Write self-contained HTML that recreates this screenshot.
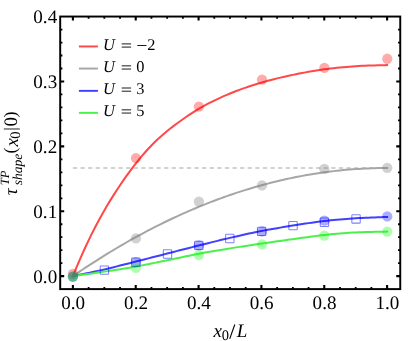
<!DOCTYPE html>
<html><head><meta charset="utf-8"><title>plot</title>
<style>html,body{margin:0;padding:0;background:#fff;}body{width:415px;height:341px;overflow:hidden;}svg{display:block;will-change:transform;}text{font-family:"Liberation Serif",serif;fill:#000;text-rendering:geometricPrecision;}</style>
</head><body>
<svg width="415" height="341" viewBox="0 0 415 341">
<rect x="0" y="0" width="415" height="341" fill="#fff"/>
<line x1="72.90" y1="168.00" x2="387.10" y2="168.00" stroke="#c2c2c2" stroke-width="1.4" stroke-dasharray="4.2 3.4"/>
<polyline points="72.90,276.15 76.04,268.46 79.18,261.05 82.33,253.90 85.47,247.00 88.61,240.35 91.75,233.93 94.89,227.73 98.04,221.75 101.18,215.99 104.32,210.44 107.46,205.08 110.60,199.89 113.75,194.87 116.89,189.99 120.03,185.25 123.17,180.63 126.31,176.15 129.46,171.81 132.60,167.62 135.74,163.58 138.88,159.68 142.02,155.90 145.17,152.26 148.31,148.77 151.45,145.45 154.59,142.30 157.73,139.32 160.88,136.47 164.02,133.74 167.16,131.09 170.30,128.54 173.44,126.09 176.59,123.74 179.73,121.45 182.87,119.23 186.01,117.05 189.15,114.93 192.30,112.86 195.44,110.87 198.58,108.97 201.72,107.15 204.86,105.40 208.01,103.72 211.15,102.10 214.29,100.53 217.43,99.03 220.57,97.57 223.72,96.17 226.86,94.81 230.00,93.50 233.14,92.23 236.28,91.01 239.43,89.82 242.57,88.68 245.71,87.57 248.85,86.51 251.99,85.47 255.14,84.48 258.28,83.52 261.42,82.59 264.56,81.69 267.70,80.82 270.85,79.99 273.99,79.18 277.13,78.40 280.27,77.64 283.41,76.91 286.56,76.20 289.70,75.52 292.84,74.86 295.98,74.22 299.12,73.59 302.27,72.98 305.41,72.38 308.55,71.81 311.69,71.26 314.83,70.73 317.98,70.23 321.12,69.76 324.26,69.32 327.40,68.91 330.54,68.52 333.69,68.15 336.83,67.80 339.97,67.48 343.11,67.17 346.25,66.89 349.40,66.63 352.54,66.40 355.68,66.18 358.82,65.99 361.96,65.83 365.11,65.69 368.25,65.57 371.39,65.47 374.53,65.38 377.67,65.31 380.82,65.24 383.96,65.17 387.10,65.11" fill="none" stroke="#ff4848" stroke-width="2.0" stroke-linejoin="round" stroke-linecap="square"/>
<polyline points="72.90,276.15 76.04,274.00 79.18,271.87 82.33,269.76 85.47,267.67 88.61,265.61 91.75,263.56 94.89,261.54 98.04,259.54 101.18,257.56 104.32,255.60 107.46,253.67 110.60,251.75 113.75,249.86 116.89,247.99 120.03,246.14 123.17,244.31 126.31,242.50 129.46,240.72 132.60,238.96 135.74,237.22 138.88,235.50 142.02,233.80 145.17,232.12 148.31,230.47 151.45,228.83 154.59,227.22 157.73,225.63 160.88,224.06 164.02,222.52 167.16,220.99 170.30,219.49 173.44,218.01 176.59,216.55 179.73,215.11 182.87,213.69 186.01,212.30 189.15,210.92 192.30,209.57 195.44,208.24 198.58,206.93 201.72,205.65 204.86,204.38 208.01,203.14 211.15,201.92 214.29,200.72 217.43,199.54 220.57,198.38 223.72,197.24 226.86,196.13 230.00,195.04 233.14,193.97 236.28,192.92 239.43,191.89 242.57,190.88 245.71,189.90 248.85,188.94 251.99,188.00 255.14,187.08 258.28,186.18 261.42,185.30 264.56,184.45 267.70,183.62 270.85,182.81 273.99,182.02 277.13,181.25 280.27,180.50 283.41,179.78 286.56,179.07 289.70,178.39 292.84,177.73 295.98,177.10 299.12,176.48 302.27,175.88 305.41,175.31 308.55,174.76 311.69,174.23 314.83,173.72 317.98,173.23 321.12,172.77 324.26,172.33 327.40,171.90 330.54,171.50 333.69,171.13 336.83,170.77 339.97,170.43 343.11,170.12 346.25,169.83 349.40,169.56 352.54,169.31 355.68,169.08 358.82,168.88 361.96,168.69 365.11,168.53 368.25,168.39 371.39,168.27 374.53,168.17 377.67,168.10 380.82,168.04 383.96,168.01 387.10,168.00" fill="none" stroke="#a6a6a6" stroke-width="2.0" stroke-linejoin="round" stroke-linecap="square"/>
<polyline points="72.90,276.15 76.04,275.49 79.18,274.83 82.33,274.18 85.47,273.54 88.61,272.89 91.75,272.23 94.89,271.56 98.04,270.88 101.18,270.18 104.32,269.47 107.46,268.72 110.60,267.96 113.75,267.18 116.89,266.39 120.03,265.59 123.17,264.78 126.31,263.97 129.46,263.16 132.60,262.35 135.74,261.55 138.88,260.75 142.02,259.96 145.17,259.16 148.31,258.36 151.45,257.57 154.59,256.77 157.73,255.97 160.88,255.17 164.02,254.37 167.16,253.57 170.30,252.76 173.44,251.96 176.59,251.15 179.73,250.34 182.87,249.52 186.01,248.72 189.15,247.91 192.30,247.11 195.44,246.31 198.58,245.52 201.72,244.74 204.86,243.95 208.01,243.17 211.15,242.39 214.29,241.62 217.43,240.85 220.57,240.09 223.72,239.34 226.86,238.60 230.00,237.86 233.14,237.14 236.28,236.42 239.43,235.70 242.57,234.99 245.71,234.28 248.85,233.59 251.99,232.92 255.14,232.25 258.28,231.61 261.42,230.99 264.56,230.38 267.70,229.80 270.85,229.24 273.99,228.69 277.13,228.15 280.27,227.63 283.41,227.11 286.56,226.60 289.70,226.10 292.84,225.60 295.98,225.10 299.12,224.60 302.27,224.10 305.41,223.61 308.55,223.13 311.69,222.66 314.83,222.21 317.98,221.78 321.12,221.37 324.26,220.99 327.40,220.64 330.54,220.31 333.69,219.99 336.83,219.70 339.97,219.42 343.11,219.17 346.25,218.92 349.40,218.69 352.54,218.47 355.68,218.27 358.82,218.08 361.96,217.92 365.11,217.77 368.25,217.65 371.39,217.53 374.53,217.42 377.67,217.31 380.82,217.21 383.96,217.09 387.10,216.97" fill="none" stroke="#4040ff" stroke-width="2.0" stroke-linejoin="round" stroke-linecap="square"/>
<polyline points="72.90,276.15 76.04,275.70 79.18,275.25 82.33,274.80 85.47,274.36 88.61,273.91 91.75,273.46 94.89,273.01 98.04,272.55 101.18,272.08 104.32,271.61 107.46,271.13 110.60,270.65 113.75,270.16 116.89,269.68 120.03,269.18 123.17,268.68 126.31,268.17 129.46,267.64 132.60,267.10 135.74,266.55 138.88,265.97 142.02,265.38 145.17,264.77 148.31,264.15 151.45,263.52 154.59,262.89 157.73,262.25 160.88,261.60 164.02,260.96 167.16,260.32 170.30,259.67 173.44,259.01 176.59,258.34 179.73,257.66 182.87,256.99 186.01,256.32 189.15,255.65 192.30,255.00 195.44,254.37 198.58,253.76 201.72,253.17 204.86,252.60 208.01,252.04 211.15,251.50 214.29,250.96 217.43,250.43 220.57,249.91 223.72,249.40 226.86,248.89 230.00,248.38 233.14,247.87 236.28,247.37 239.43,246.88 242.57,246.40 245.71,245.92 248.85,245.44 251.99,244.97 255.14,244.50 258.28,244.04 261.42,243.58 264.56,243.12 267.70,242.66 270.85,242.21 273.99,241.77 277.13,241.33 280.27,240.89 283.41,240.46 286.56,240.02 289.70,239.59 292.84,239.16 295.98,238.73 299.12,238.29 302.27,237.85 305.41,237.41 308.55,236.97 311.69,236.55 314.83,236.13 317.98,235.74 321.12,235.36 324.26,235.01 327.40,234.68 330.54,234.36 333.69,234.06 336.83,233.78 339.97,233.51 343.11,233.25 346.25,233.01 349.40,232.80 352.54,232.60 355.68,232.41 358.82,232.26 361.96,232.13 365.11,232.03 368.25,231.95 371.39,231.88 374.53,231.82 377.67,231.77 380.82,231.71 383.96,231.65 387.10,231.57" fill="none" stroke="#4cf04c" stroke-width="2.0" stroke-linejoin="round" stroke-linecap="square"/>
<circle cx="72.90" cy="274.01" r="5.15" fill="#ff0000" fill-opacity="0.33"/>
<circle cx="135.94" cy="158.05" r="5.15" fill="#ff0000" fill-opacity="0.33"/>
<circle cx="198.88" cy="106.59" r="5.15" fill="#ff0000" fill-opacity="0.33"/>
<circle cx="262.02" cy="79.53" r="5.15" fill="#ff0000" fill-opacity="0.33"/>
<circle cx="324.36" cy="67.85" r="5.15" fill="#ff0000" fill-opacity="0.33"/>
<circle cx="387.25" cy="58.77" r="5.15" fill="#ff0000" fill-opacity="0.33"/>
<circle cx="72.90" cy="276.60" r="5.15" fill="#808080" fill-opacity="0.36"/>
<circle cx="135.94" cy="238.38" r="5.15" fill="#808080" fill-opacity="0.36"/>
<circle cx="198.88" cy="201.53" r="5.15" fill="#808080" fill-opacity="0.36"/>
<circle cx="262.02" cy="185.30" r="5.15" fill="#808080" fill-opacity="0.36"/>
<circle cx="324.36" cy="168.95" r="5.15" fill="#808080" fill-opacity="0.36"/>
<circle cx="387.25" cy="167.78" r="5.15" fill="#808080" fill-opacity="0.36"/>
<circle cx="72.90" cy="276.60" r="5.15" fill="#0000ff" fill-opacity="0.32"/>
<circle cx="135.94" cy="262.20" r="5.15" fill="#0000ff" fill-opacity="0.32"/>
<circle cx="198.88" cy="245.39" r="5.15" fill="#0000ff" fill-opacity="0.32"/>
<circle cx="262.02" cy="231.38" r="5.15" fill="#0000ff" fill-opacity="0.32"/>
<circle cx="324.36" cy="220.67" r="5.15" fill="#0000ff" fill-opacity="0.32"/>
<circle cx="387.25" cy="216.45" r="5.15" fill="#0000ff" fill-opacity="0.32"/>
<rect x="100.22" y="265.92" width="8.4" height="8.4" rx="0.7" fill="none" stroke="#0000ff" stroke-opacity="0.5" stroke-width="1.05"/>
<rect x="131.64" y="258.00" width="8.4" height="8.4" rx="0.7" fill="none" stroke="#0000ff" stroke-opacity="0.5" stroke-width="1.05"/>
<rect x="163.31" y="249.82" width="8.4" height="8.4" rx="0.7" fill="none" stroke="#0000ff" stroke-opacity="0.5" stroke-width="1.05"/>
<rect x="194.58" y="241.19" width="8.4" height="8.4" rx="0.7" fill="none" stroke="#0000ff" stroke-opacity="0.5" stroke-width="1.05"/>
<rect x="225.60" y="234.31" width="8.4" height="8.4" rx="0.7" fill="none" stroke="#0000ff" stroke-opacity="0.5" stroke-width="1.05"/>
<rect x="257.42" y="227.18" width="8.4" height="8.4" rx="0.7" fill="none" stroke="#0000ff" stroke-opacity="0.5" stroke-width="1.05"/>
<rect x="288.84" y="221.40" width="8.4" height="8.4" rx="0.7" fill="none" stroke="#0000ff" stroke-opacity="0.5" stroke-width="1.05"/>
<rect x="320.26" y="218.09" width="8.4" height="8.4" rx="0.7" fill="none" stroke="#0000ff" stroke-opacity="0.5" stroke-width="1.05"/>
<rect x="351.83" y="214.72" width="8.4" height="8.4" rx="0.7" fill="none" stroke="#0000ff" stroke-opacity="0.5" stroke-width="1.05"/>
<circle cx="72.90" cy="276.60" r="5.15" fill="#00ff00" fill-opacity="0.32"/>
<circle cx="135.94" cy="267.91" r="5.15" fill="#00ff00" fill-opacity="0.32"/>
<circle cx="198.88" cy="255.00" r="5.15" fill="#00ff00" fill-opacity="0.32"/>
<circle cx="262.02" cy="244.42" r="5.15" fill="#00ff00" fill-opacity="0.32"/>
<circle cx="324.36" cy="235.59" r="5.15" fill="#00ff00" fill-opacity="0.32"/>
<circle cx="387.25" cy="231.57" r="5.15" fill="#00ff00" fill-opacity="0.32"/>
<rect x="60.2" y="16.55" width="340.05" height="272.55" fill="none" stroke="#000" stroke-width="1.95"/>
<path d="M72.90 289.1 v-4.0 M72.90 16.55 v4.0 M135.74 289.1 v-4.0 M135.74 16.55 v4.0 M198.58 289.1 v-4.0 M198.58 16.55 v4.0 M261.42 289.1 v-4.0 M261.42 16.55 v4.0 M324.26 289.1 v-4.0 M324.26 16.55 v4.0 M387.10 289.1 v-4.0 M387.10 16.55 v4.0 M60.2 276.15 h4.0 M400.25 276.15 h-4.0 M60.2 211.26 h4.0 M400.25 211.26 h-4.0 M60.2 146.37 h4.0 M400.25 146.37 h-4.0 M60.2 81.48 h4.0 M400.25 81.48 h-4.0" stroke="#000" stroke-width="2.1" fill="none"/>
<path d="M88.61 289.1 v-2.2 M88.61 16.55 v2.2 M104.32 289.1 v-2.2 M104.32 16.55 v2.2 M120.03 289.1 v-2.2 M120.03 16.55 v2.2 M151.45 289.1 v-2.2 M151.45 16.55 v2.2 M167.16 289.1 v-2.2 M167.16 16.55 v2.2 M182.87 289.1 v-2.2 M182.87 16.55 v2.2 M214.29 289.1 v-2.2 M214.29 16.55 v2.2 M230.00 289.1 v-2.2 M230.00 16.55 v2.2 M245.71 289.1 v-2.2 M245.71 16.55 v2.2 M277.13 289.1 v-2.2 M277.13 16.55 v2.2 M292.84 289.1 v-2.2 M292.84 16.55 v2.2 M308.55 289.1 v-2.2 M308.55 16.55 v2.2 M339.97 289.1 v-2.2 M339.97 16.55 v2.2 M355.68 289.1 v-2.2 M355.68 16.55 v2.2 M371.39 289.1 v-2.2 M371.39 16.55 v2.2 M60.2 263.17 h2.2 M400.25 263.17 h-2.2 M60.2 250.19 h2.2 M400.25 250.19 h-2.2 M60.2 237.22 h2.2 M400.25 237.22 h-2.2 M60.2 224.24 h2.2 M400.25 224.24 h-2.2 M60.2 198.28 h2.2 M400.25 198.28 h-2.2 M60.2 185.30 h2.2 M400.25 185.30 h-2.2 M60.2 172.33 h2.2 M400.25 172.33 h-2.2 M60.2 159.35 h2.2 M400.25 159.35 h-2.2 M60.2 133.39 h2.2 M400.25 133.39 h-2.2 M60.2 120.41 h2.2 M400.25 120.41 h-2.2 M60.2 107.44 h2.2 M400.25 107.44 h-2.2 M60.2 94.46 h2.2 M400.25 94.46 h-2.2 M60.2 68.50 h2.2 M400.25 68.50 h-2.2 M60.2 55.52 h2.2 M400.25 55.52 h-2.2 M60.2 42.55 h2.2 M400.25 42.55 h-2.2 M60.2 29.57 h2.2 M400.25 29.57 h-2.2" stroke="#000" stroke-width="1.8" fill="none"/>
<text transform="translate(73.20,309.45) scale(1,1)" font-size="19.1" text-anchor="middle">0.0</text>
<text transform="translate(136.04,309.45) scale(1,1)" font-size="19.1" text-anchor="middle">0.2</text>
<text transform="translate(198.88,309.45) scale(1,1)" font-size="19.1" text-anchor="middle">0.4</text>
<text transform="translate(261.72,309.45) scale(1,1)" font-size="19.1" text-anchor="middle">0.6</text>
<text transform="translate(324.56,309.45) scale(1,1)" font-size="19.1" text-anchor="middle">0.8</text>
<text transform="translate(387.40,309.45) scale(1,1)" font-size="19.1" text-anchor="middle">1.0</text>
<text transform="translate(57.2,283.05) scale(1,1)" font-size="19.1" text-anchor="end">0.0</text>
<text transform="translate(57.2,218.16) scale(1,1)" font-size="19.1" text-anchor="end">0.1</text>
<text transform="translate(57.2,153.27) scale(1,1)" font-size="19.1" text-anchor="end">0.2</text>
<text transform="translate(57.2,88.38) scale(1,1)" font-size="19.1" text-anchor="end">0.3</text>
<text transform="translate(57.2,23.49) scale(1,1)" font-size="19.1" text-anchor="end">0.4</text>
<text font-size="19" font-style="italic" x="213.6" y="337">x</text>
<text font-size="14.5" x="221.7" y="340.3">0</text>
<path d="M229.7 338.9L234.8 324.5" stroke="#000" stroke-width="1.1" fill="none"/>
<text font-size="19" font-style="italic" x="236.8" y="337">L</text>
<g transform="translate(17.2,197) rotate(-90)">
<text font-size="19" font-style="italic" x="1.80" y="0.00">τ</text>
<text font-size="12.6" font-style="italic" x="11.80" y="-8.60">TP</text>
<text font-size="13.6" font-style="italic" x="11.70" y="4.70">shape</text>
<text font-size="17.8" x="43.50" y="-1.60">(</text>
<text font-size="19" font-style="italic" x="50.40" y="0.50">x</text>
<text font-size="14.5" x="58.20" y="3.20">0</text>
<text font-size="17.6" x="66.30" y="-1.00">|</text>
<text font-size="19" x="70.60" y="0.00">0</text>
<text font-size="17.8" x="79.60" y="-1.60">)</text>
</g>
<line x1="78.9" y1="46.45" x2="97.9" y2="46.45" stroke="#ff4848" stroke-width="1.95"/>
<text font-size="16.4" font-style="italic" x="103.0" y="50.10">U</text>
<path d="M121.7 43.90h9.4M121.7 47.10h9.4" stroke="#000" stroke-width="0.9" fill="none"/>
<path d="M137.3 45.50h9.2" stroke="#000" stroke-width="0.9" fill="none"/>
<text font-size="16.4" x="147.2" y="50.10">2</text>
<line x1="78.9" y1="68.55" x2="97.9" y2="68.55" stroke="#a6a6a6" stroke-width="1.95"/>
<text font-size="16.4" font-style="italic" x="103.0" y="72.05">U</text>
<path d="M121.7 65.85h9.4M121.7 69.05h9.4" stroke="#000" stroke-width="0.9" fill="none"/>
<text font-size="16.4" x="136.2" y="72.05">0</text>
<line x1="78.9" y1="90.85" x2="97.9" y2="90.85" stroke="#4040ff" stroke-width="1.95"/>
<text font-size="16.4" font-style="italic" x="103.0" y="94.20">U</text>
<path d="M121.7 88.00h9.4M121.7 91.20h9.4" stroke="#000" stroke-width="0.9" fill="none"/>
<text font-size="16.4" x="136.2" y="94.20">3</text>
<line x1="78.9" y1="112.85" x2="97.9" y2="112.85" stroke="#4cf04c" stroke-width="1.95"/>
<text font-size="16.4" font-style="italic" x="103.0" y="116.05">U</text>
<path d="M121.7 109.85h9.4M121.7 113.05h9.4" stroke="#000" stroke-width="0.9" fill="none"/>
<text font-size="16.4" x="136.2" y="116.05">5</text>
</svg>
</body></html>
